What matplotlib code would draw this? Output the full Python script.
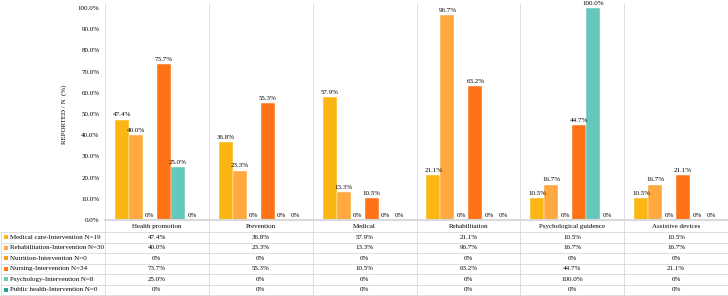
import matplotlib.pyplot as plt
import numpy as np
from matplotlib.patches import Rectangle

plt.rcParams['font.family'] = ['Liberation Serif', 'DejaVu Serif']

categories = ['Health promotion', 'Prevention', 'Medical', 'Rehabilitation',
              'Psychological guidence', 'Assistive devices']
series_names = ['Medical care-Intervention N=19', 'Rehabilitation-Intervention N=30',
                'Nutrition-Intervention N=0', 'Nursing-Intervention N=34',
                'Psychology-Intervention N=8', 'Public health-Intervention N=0']
medical_care = [47.4, 36.8, 57.9, 21.1, 10.5, 10.5]
rehabilitation = [40.0, 23.3, 13.3, 96.7, 16.7, 16.7]
nutrition = [0, 0, 0, 0, 0, 0]
nursing = [73.7, 55.3, 10.5, 63.2, 44.7, 21.1]
psychology = [25.0, 0, 0, 0, 100.0, 0]
public_health = [0, 0, 0, 0, 0, 0]
colors = ['#FBB614', '#FFA940', '#FF9A1F', '#FF7318', '#66C8BA', '#1FA393']

series = [medical_care, rehabilitation, nutrition, nursing, psychology, public_health]

W, H = 728, 296
fig = plt.figure(figsize=(W / 100, H / 100), dpi=100)


def fx(px):
    return px / W


def fy(py):
    return 1 - py / H


ax_l, ax_r, ax_t, ax_b = 105, 728, 8, 220
ax = fig.add_axes([fx(ax_l), fy(ax_b), fx(ax_r - ax_l), fy(ax_t) - fy(ax_b)])

n = len(categories)
x = np.arange(n)
bw = 0.135
fs = 5
grid_c = '#d9d9d9'

for i, (vals, c) in enumerate(zip(series, colors)):
    pos = x + (i - 2.5) * bw
    ax.bar(pos, vals, width=bw, color=c, edgecolor='white', linewidth=0.3)
    for p, v in zip(pos, vals):
        lab = '0%' if v == 0 else f'{v:.1f}%'
        ax.text(p, v + 1.0, lab, ha='center', va='bottom', fontsize=fs)

ax.set_xlim(-0.5, n - 0.5)
ax.set_ylim(0, 100)
ax.set_yticks(np.arange(0, 101, 10))
ax.set_yticklabels([f'{t:.1f}%' for t in np.arange(0, 101, 10)], fontsize=fs)
ax.tick_params(axis='y', length=0, pad=4)
ax.set_xticks([])
for s in ['top', 'right', 'left']:
    ax.spines[s].set_visible(False)
ax.spines['bottom'].set_color(grid_c)
ax.spines['bottom'].set_linewidth(1.5)
ax.set_ylabel('REPORTED / N  (%)', fontsize=fs, labelpad=8)

# data table below the chart
col_w = (ax_r - ax_l) / n
hdr_top, hdr_bot = 220, 232
row_h = (295 - hdr_bot) / 6
lw = 0.6

for k in range(n + 1):
    xp = ax_l + k * col_w
    if k == n:
        xp = ax_r - 0.5
    fig.add_artist(plt.Line2D([fx(xp), fx(xp)], [fy(3), fy(295)], color=grid_c, lw=lw))
fig.add_artist(plt.Line2D([fx(1), fx(1)], [fy(hdr_bot), fy(295)], color=grid_c, lw=lw))

for r in range(7):
    yp = hdr_bot + r * row_h
    fig.add_artist(plt.Line2D([fx(1), fx(ax_r)], [fy(yp), fy(yp)], color=grid_c, lw=lw))

for k, cat in enumerate(categories):
    fig.text(fx(ax_l + (k + 0.5) * col_w), fy((hdr_top + hdr_bot) / 2 + 0.5), cat,
             ha='center', va='center', fontsize=fs)

for r, (name, vals, c) in enumerate(zip(series_names, series, colors)):
    yc = hdr_bot + (r + 0.5) * row_h
    fig.add_artist(Rectangle((fx(4), fy(yc + 2.2)), fx(4.4), fy(0) - fy(4.4),
                             transform=fig.transFigure, color=c, lw=0))
    fig.text(fx(9.5), fy(yc), name, ha='left', va='center', fontsize=fs)
    for k, v in enumerate(vals):
        lab = '0%' if v == 0 else f'{v:.1f}%'
        fig.text(fx(ax_l + (k + 0.5) * col_w), fy(yc), lab,
                 ha='center', va='center', fontsize=fs)

fig.savefig('out.png', dpi=100)
